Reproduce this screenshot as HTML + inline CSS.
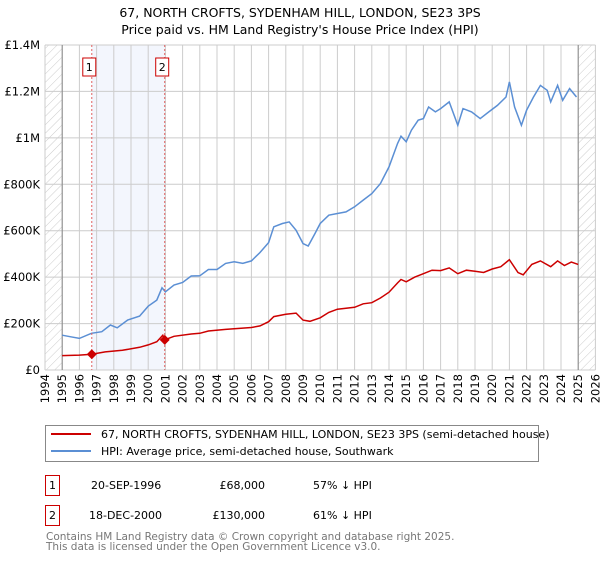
<!DOCTYPE html>
<html><head><meta charset="utf-8"><style>
body{margin:0;background:#fff;font-family:"Liberation Sans","DejaVu Sans",sans-serif;}
svg text{font-family:"DejaVu Sans","Liberation Sans",sans-serif;}
</style></head><body>
<svg id="c" width="600" height="560" xmlns="http://www.w3.org/2000/svg">
<defs><pattern id="h" width="6" height="6" patternUnits="userSpaceOnUse" patternTransform="rotate(45)"><line x1="0" y1="0" x2="0" y2="6" stroke="#ccc" stroke-width="1"/></pattern></defs>
<text x="300" y="17" text-anchor="middle" font-size="12.5">67, NORTH CROFTS, SYDENHAM HILL, LONDON, SE23 3PS</text>
<text x="300" y="34" text-anchor="middle" font-size="12.5">Price paid vs. HM Land Registry's House Price Index (HPI)</text>
<g id="plot"></g>
<rect x="45.5" y="425.5" width="493" height="36" fill="#fff" stroke="#888"/>
<line x1="51" y1="434" x2="91" y2="434" stroke="#cc0000" stroke-width="2"/>
<text x="101" y="438" font-size="11">67, NORTH CROFTS, SYDENHAM HILL, LONDON, SE23 3PS (semi-detached house)</text>
<line x1="51" y1="451" x2="91" y2="451" stroke="#5b8fd4" stroke-width="2"/>
<text x="101" y="455" font-size="11">HPI: Average price, semi-detached house, Southwark</text>
<g font-size="11">
<rect x="45.5" y="475.5" width="14" height="20" fill="none" stroke="#cc0000"/>
<text x="52.5" y="489" text-anchor="middle">1</text>
<text x="91" y="489">20-SEP-1996</text><text x="265" y="489" text-anchor="end">£68,000</text><text x="313" y="489">57% ↓ HPI</text>
<rect x="45.5" y="505.5" width="14" height="20" fill="none" stroke="#cc0000"/>
<text x="52.5" y="519" text-anchor="middle">2</text>
<text x="89" y="519">18-DEC-2000</text><text x="265" y="519" text-anchor="end">£130,000</text><text x="313" y="519">61% ↓ HPI</text>
</g>
<text x="46" y="540" font-size="10.5" fill="#777">Contains HM Land Registry data © Crown copyright and database right 2025.</text>
<text x="46" y="550" font-size="10.5" fill="#777">This data is licensed under the Open Government Licence v3.0.</text>
</svg>
<script>
const yTicks=[0,200000,400000,600000,800000,1000000,1200000,1400000];
const yTickLabels=["£0","£200K","£400K","£600K","£800K","£1M","£1.2M","£1.4M"];
const years=[1994,1995,1996,1997,1998,1999,2000,2001,2002,2003,2004,2005,2006,2007,2008,2009,2010,2011,2012,2013,2014,2015,2016,2017,2018,2019,2020,2021,2022,2023,2024,2025,2026];
const hpiT=[1995.0,1995.5,1996.0,1996.7,1997.3,1997.8,1998.2,1998.8,1999.5,2000.0,2000.5,2000.8,2001.0,2001.5,2002.0,2002.5,2003.0,2003.5,2004.0,2004.5,2005.0,2005.5,2006.0,2006.5,2007.0,2007.3,2007.8,2008.2,2008.6,2009.0,2009.3,2009.7,2010.0,2010.5,2011.0,2011.5,2012.0,2012.5,2013.0,2013.5,2014.0,2014.5,2014.7,2015.0,2015.3,2015.7,2016.0,2016.3,2016.7,2017.0,2017.5,2018.0,2018.3,2018.8,2019.3,2019.8,2020.3,2020.8,2021.0,2021.3,2021.7,2022.0,2022.4,2022.8,2023.2,2023.4,2023.8,2024.1,2024.5,2024.9];
const hpiV=[150,143,136,158,165,194,182,215,232,275,301,354,337,366,377,405,406,433,433,459,466,459,470,506,549,617,631,638,602,545,534,588,631,667,674,681,703,732,760,803,875,976,1007,983,1033,1076,1083,1133,1112,1126,1155,1054,1126,1112,1083,1112,1140,1176,1241,1133,1054,1119,1176,1226,1205,1155,1226,1162,1212,1176];
const ppT=[1995.0,1996.0,1996.72,1997.5,1998.5,1999.5,2000.0,2000.5,2000.85,2000.96,2001.5,2002.5,2003.0,2003.5,2004.5,2005.0,2006.0,2006.5,2007.0,2007.3,2008.0,2008.6,2009.0,2009.4,2010.0,2010.5,2011.0,2012.0,2012.5,2013.0,2013.5,2014.0,2014.5,2014.7,2015.0,2015.5,2016.0,2016.5,2017.0,2017.5,2018.0,2018.5,2019.0,2019.5,2020.0,2020.5,2021.0,2021.5,2021.8,2022.3,2022.8,2023.4,2023.8,2024.2,2024.6,2025.0];
const ppV=[62,64,68,78,85,98,108,122,150,130,145,155,158,168,175,178,183,190,208,230,240,245,215,210,225,248,262,270,285,290,310,335,375,390,380,400,415,430,428,440,415,430,425,420,435,445,475,420,410,455,470,445,470,450,465,455];
const saleT=[1996.72,2000.96];
const saleV=[68000,130000];
const saleLabels=["1","2"];
const X=t=>45+(t-1994)*17.2;
const Y=v=>370-v/1400000*325;
const NS="http://www.w3.org/2000/svg";
const g=document.getElementById('plot');
function mk(tag,attrs){const e=document.createElementNS(NS,tag);for(const k in attrs)e.setAttribute(k,attrs[k]);g.appendChild(e);return e;}
let e;
e=mk('rect',{x:X(saleT[0]),y:Y(1400000),width:X(saleT[1])-X(saleT[0]),height:Y(0)-Y(1400000),fill:'#f3f6fd'});


years.forEach(y=>{const l=mk('line',{x1:X(y),x2:X(y),y1:Y(1400000),y2:Y(0),stroke:'#ccc'});

});
yTicks.forEach((v,i)=>{const l=mk('line',{x1:X(1994),x2:X(2026),y1:Y(v),y2:Y(v),stroke:'#ccc'});


const t=mk('text',{x:40,y:Y(v)+4,'text-anchor':'end','font-size':'11.5'});t.textContent=yTickLabels[i];

});
[[1994,1995],[2025,2026]].forEach(r=>{const h=mk('rect',{x:X(r[0]),y:Y(1400000),width:X(r[1])-X(r[0]),height:Y(0)-Y(1400000),fill:'url(#h)'});


const b=mk('line',{x1:X(r[0]===1994?1995:2025),x2:X(r[0]===1994?1995:2025),y1:Y(1400000),y2:Y(0),stroke:'#888'});

});
years.forEach(y=>{const t=mk('text',{transform:`translate(${X(y)+4},374) rotate(-90)`,'text-anchor':'end','font-size':'11.5'});t.textContent=y;

});
function path(T,V){return T.map((t,i)=>(i?'L':'M')+X(t).toFixed(1)+','+Y(V[i]*1000).toFixed(1)).join('');}
e=mk('path',{d:path(hpiT,hpiV),fill:'none',stroke:'#5b8fd4','stroke-width':1.5});


e=mk('path',{d:path(ppT,ppV),fill:'none',stroke:'#cc0000','stroke-width':1.5});


saleT.forEach((t,i)=>{const l=mk('line',{x1:X(t),x2:X(t),y1:Y(1400000),y2:Y(0),stroke:'#e06060','stroke-dasharray':'2,2'});


const d=mk('path',{d:`M${X(t)},${Y(saleV[i])-5}l5,5l-5,5l-5,-5z`,fill:'#cc0000'});


const b=mk('rect',{x:X(t)-9,y:58,width:13,height:18,fill:'#fff',stroke:'#cc0000'});


const tx=mk('text',{x:X(t)-2.5,y:71,'text-anchor':'middle','font-size':'11'});tx.textContent=saleLabels[i];

});
</script>
</body></html>
